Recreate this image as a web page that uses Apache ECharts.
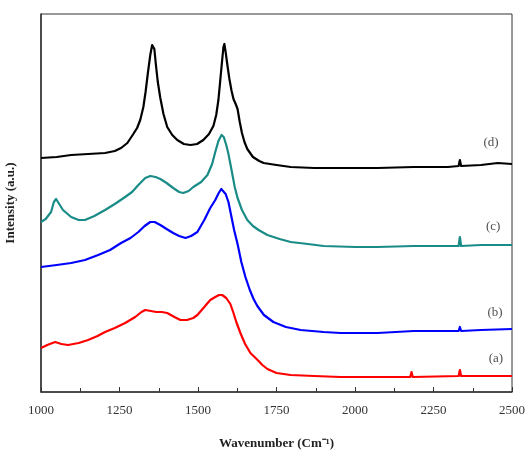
<!DOCTYPE html>
<html>
<head>
<meta charset="utf-8">
<script src="https://cdn.jsdelivr.net/npm/echarts@6/dist/echarts.min.js"></script>
<style>html,body{margin:0;padding:0;background:#fff;}#c{width:525px;height:458px;}</style>
</head>
<body>
<div id="c"></div>
<script>
// Wavenumber (cm-1), intensity (arbitrary units, offset stacked)
const curveD = [[1000,234],[1050,235],[1096,237],[1150,238],[1204,239],[1235,241],[1255,244],[1275,249],[1294,258],[1306,264],[1316,272],[1326,285],[1333,300],[1340,318],[1348,337],[1354,347],[1357,349],[1361,343],[1366,327],[1372,310],[1380,294],[1390,278],[1402,265],[1418,257],[1434,252],[1455,248],[1476,247],[1497,248],[1517,252],[1535,258],[1549,266],[1558,277],[1565,292],[1571,312],[1577,332],[1581,345],[1584,348],[1588,340],[1594,326],[1600,313],[1607,301],[1613,293],[1620,288],[1626,283],[1633,270],[1640,259],[1648,250],[1657,243],[1675,235],[1695,231],[1709,229],[1750,227],[1795,225],[1870,224],[1954,224],[2072,224],[2187,225],[2296,225],[2330,226],[2334,232],[2338,226],[2401,227],[2455,229],[2500,228]];
const curveC = [[1000,170],[1015,173],[1032,180],[1041,190],[1048,193],[1056,189],[1070,182],[1096,175],[1120,172],[1140,172],[1170,176],[1204,182],[1235,188],[1268,195],[1290,200],[1310,207],[1332,214],[1348,216],[1365,215],[1380,213],[1400,209],[1421,204],[1440,200],[1453,199],[1470,201],[1485,205],[1510,210],[1530,217],[1545,228],[1555,240],[1565,251],[1575,257],[1582,255],[1590,247],[1597,238],[1608,220],[1617,205],[1626,194],[1640,182],[1657,172],[1675,166],[1693,162],[1721,157],[1760,153],[1795,150],[1850,148],[1900,146],[2000,145],[2072,145],[2187,146],[2330,146],[2334,155],[2338,146],[2401,147],[2500,147]];
const curveB = [[1000,125],[1050,127],[1096,129],[1140,132],[1182,137],[1220,142],[1255,149],[1285,154],[1310,160],[1330,166],[1348,170],[1362,170],[1380,167],[1400,163],[1421,159],[1440,156],[1460,154],[1478,156],[1498,160],[1520,172],[1539,184],[1555,192],[1566,199],[1574,203],[1580,203],[1588,198],[1597,190],[1606,176],[1615,162],[1626,148],[1638,130],[1651,115],[1665,102],[1677,93],[1689,86],[1710,77],[1740,70],[1780,65],[1827,62],[1900,60],[1954,59],[2072,59],[2187,61],[2330,61],[2334,65],[2338,61],[2401,62],[2500,63]];
const curveA = [[1000,44],[1020,47],[1045,50],[1065,48],[1086,47],[1120,49],[1150,52],[1180,56],[1204,60],[1235,64],[1268,69],[1300,75],[1320,80],[1332,82],[1350,81],[1367,80],[1385,80],[1402,79],[1425,75],[1444,72],[1465,72],[1485,74],[1498,77],[1520,85],[1539,92],[1555,95],[1567,97],[1577,97],[1590,94],[1603,88],[1612,80],[1622,70],[1635,59],[1650,48],[1667,39],[1680,35],[1693,31],[1705,27],[1721,23],[1750,19],[1795,17],[1870,16],[1954,15],[2072,15],[2176,15],[2180,20],[2184,15],[2330,16],[2334,22],[2338,16],[2401,16],[2500,16]];
const curveLabels = [[2433,249,'(d)'],[2440,165,'(c)'],[2446,79,'(b)'],[2449,33,'(a)']];
const xTicks = [1000,1250,1500,1750,2000,2250,2500];

const colors = ['#000000','#1a8c87','#0000ff','#ff0000'];
const serif = '"Liberation Serif","Times New Roman",serif';
const chart = echarts.init(document.getElementById('c'));
function mk(data, color){
  return {type:'line', data:data, showSymbol:false, smooth:false,
    lineStyle:{color:color, width:2.2, join:'round'}, itemStyle:{color:color}, silent:true, animation:false};
}
chart.setOption({
  animation:false,
  grid:{left:41,right:13,top:14,bottom:66,show:true,borderColor:'#333',borderWidth:1,outerBoundsMode:'none',containLabel:false},
  xAxis:{type:'value',min:xTicks[0],max:xTicks[xTicks.length-1],interval:250,
    name:'Wavenumber (Cm\u207B\u00B9)',nameLocation:'middle',nameGap:45,
    nameTextStyle:{fontFamily:serif,fontSize:13,fontWeight:'bold',color:'#222'},
    axisLine:{lineStyle:{color:'#333',width:1.5}},
    axisTick:{inside:true,length:5,lineStyle:{color:'#333'}},
    minorTick:{show:true,splitNumber:2,length:4,lineStyle:{color:'#333'}},
    splitLine:{show:false},
    axisLabel:{fontFamily:serif,fontSize:13,color:'#333',margin:12,formatter:v=>String(v)}},
  yAxis:{type:'value',min:0,max:378,
    name:'Intensity (a.u.)',nameLocation:'middle',nameGap:24,
    nameTextStyle:{fontFamily:serif,fontSize:13,fontWeight:'bold',color:'#222'},
    axisLine:{show:true,lineStyle:{color:'#333',width:1.5}},
    axisTick:{show:false},axisLabel:{show:false},splitLine:{show:false}},
  series:[mk(curveA,colors[3]),mk(curveB,colors[2]),mk(curveC,colors[1]),mk(curveD,colors[0]),
    {type:'scatter',data:curveLabels.map(d=>[d[0],d[1],d[2]]),symbolSize:0,silent:true,
     label:{show:true,position:'inside',formatter:p=>p.data[2],fontFamily:serif,fontSize:13,color:'#222'}}]
});
</script>
</body>
</html>
